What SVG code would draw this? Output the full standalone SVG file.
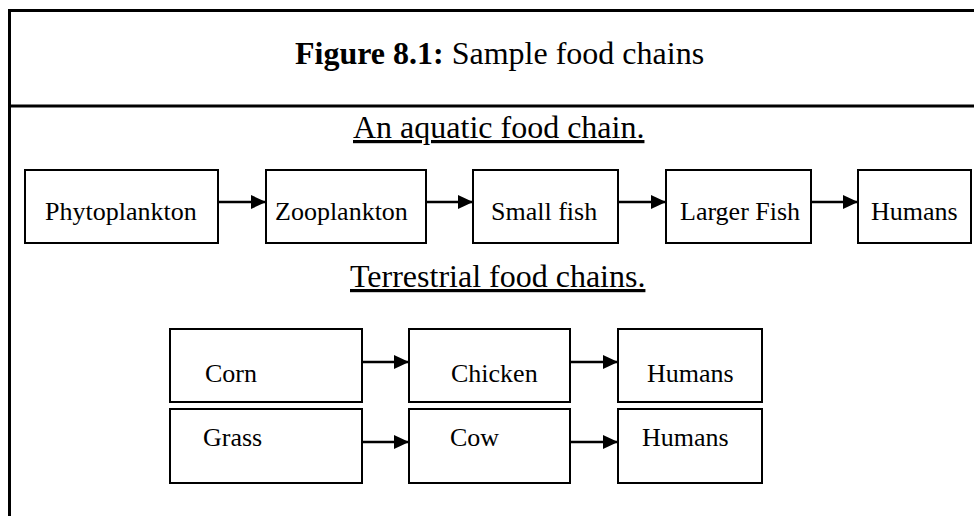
<svg xmlns="http://www.w3.org/2000/svg" width="974" height="516" viewBox="0 0 974 516">
<style>
.frame{fill:none;stroke:#000;stroke-width:3}
.box{fill:#fff;stroke:#000;stroke-width:2}
.lbl{font-family:"Liberation Serif","Times New Roman",serif;font-size:26px;fill:#000}
.head{font-family:"Liberation Serif","Times New Roman",serif;font-size:32px;fill:#000;text-decoration:underline}
.title{font-family:"Liberation Serif","Times New Roman",serif;font-size:32px;fill:#000}
.conn{stroke:#000;stroke-width:2.5;fill:none}
</style>
<defs>
<marker id="ah" markerWidth="16" markerHeight="16" refX="15" refY="7" orient="auto" markerUnits="userSpaceOnUse">
<path d="M0,0 L15,7 L0,14 Z" fill="#000"/>
</marker>
</defs>
<rect width="974" height="516" fill="#fff"/>
<g id="frame">
<path class="frame" d="M9.5,516 V10.5 H974"/>
<path class="frame" d="M9.5,106 H974"/>
</g>
<g id="title">
<text class="title" x="295" y="64"><tspan font-weight="bold">Figure 8.1:</tspan> Sample food chains</text>
</g>
<g id="heading-aquatic">
<text class="head" x="353" y="138">An aquatic food chain.</text>
</g>
<g id="heading-terrestrial">
<text class="head" x="350" y="287">Terrestrial food chains.</text>
</g>
<g id="phytoplankton"><rect class="box" x="25" y="170" width="193" height="73"/><text class="lbl" x="45" y="220">Phytoplankton</text></g>
<g id="zooplankton"><rect class="box" x="266" y="170" width="160" height="73"/><text class="lbl" x="275" y="220">Zooplankton</text></g>
<g id="smallfish"><rect class="box" x="473" y="170" width="145" height="73"/><text class="lbl" x="491" y="220">Small fish</text></g>
<g id="largerfish"><rect class="box" x="666" y="170" width="145" height="73"/><text class="lbl" x="680" y="220">Larger Fish</text></g>
<g id="humans-aquatic"><rect class="box" x="858" y="170" width="113" height="73"/><text class="lbl" x="871" y="220">Humans</text></g>
<g id="corn"><rect class="box" x="170" y="329" width="192" height="73"/><text class="lbl" x="205" y="382">Corn</text></g>
<g id="chicken"><rect class="box" x="409" y="329" width="161" height="73"/><text class="lbl" x="451" y="382">Chicken</text></g>
<g id="humans-corn"><rect class="box" x="618" y="329" width="144" height="73"/><text class="lbl" x="647" y="382">Humans</text></g>
<g id="grass"><rect class="box" x="170" y="409" width="192" height="74"/><text class="lbl" x="203" y="446">Grass</text></g>
<g id="cow"><rect class="box" x="409" y="409" width="161" height="74"/><text class="lbl" x="450" y="446">Cow</text></g>
<g id="humans-grass"><rect class="box" x="618" y="409" width="144" height="74"/><text class="lbl" x="642" y="446">Humans</text></g>
<g id="connectors">
<line class="conn" x1="218" y1="202" x2="266" y2="202" marker-end="url(#ah)"/>
<line class="conn" x1="426" y1="202" x2="473" y2="202" marker-end="url(#ah)"/>
<line class="conn" x1="618" y1="202" x2="666" y2="202" marker-end="url(#ah)"/>
<line class="conn" x1="811" y1="202" x2="858" y2="202" marker-end="url(#ah)"/>
<line class="conn" x1="362" y1="362" x2="409" y2="362" marker-end="url(#ah)"/>
<line class="conn" x1="570" y1="362" x2="618" y2="362" marker-end="url(#ah)"/>
<line class="conn" x1="362" y1="442" x2="409" y2="442" marker-end="url(#ah)"/>
<line class="conn" x1="570" y1="442" x2="618" y2="442" marker-end="url(#ah)"/>
</g>
</svg>
